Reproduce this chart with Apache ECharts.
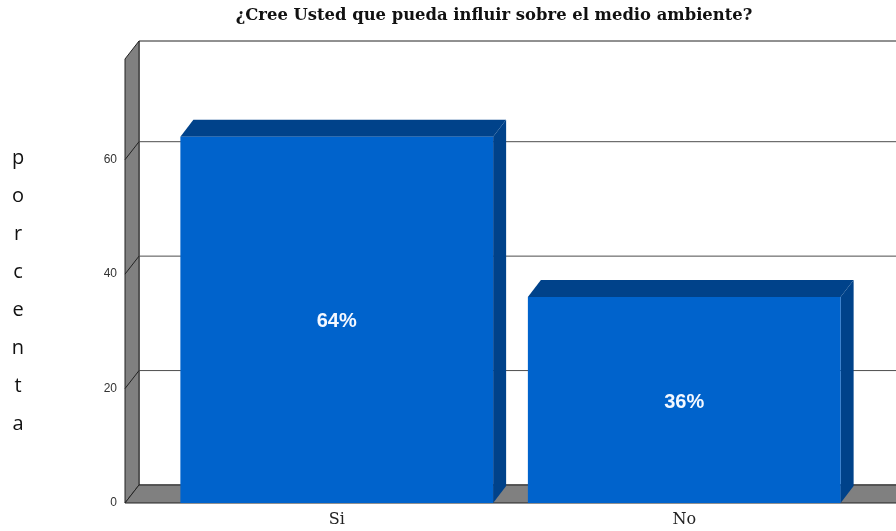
<!DOCTYPE html>
<html>
<head>
<meta charset="utf-8">
<script src="https://cdn.jsdelivr.net/npm/echarts@6/dist/echarts.min.js"></script>
<style>
  html, body { margin: 0; padding: 0; background: #ffffff; }
  #chart { width: 896px; height: 531px; }
</style>
</head>
<body>
<div id="chart"></div>
<script>
// Survey answers and their share (%)
const categories = ['Si', 'No'];
const percentages = [64, 36];
const yTickValues = [0, 20, 40, 60];
const chartTitle = '¿Cree Usted que pueda influir sobre el medio ambiente?';
const yAxisTitle = 'porcentaje';

// 3D look: how far the back plane sits from the front plane
const WALL = { dx: 14, dy: -18, side: 38 };
const BAR = { dx: 13, dy: -17, ratio: 0.9 };
const COLORS = {
  wall: '#808080', edge: '#222222', grid: '#4d4d4d',
  barFront: '#0063cc', barShade: '#00428a'
};

const chart = echarts.init(document.getElementById('chart'), null, { renderer: 'canvas' });

// back wall, left wall and floor of the box
function renderFrame(params, api) {
  const cs = params.coordSys;
  const fx = cs.x - WALL.side;
  const bx = fx + WALL.dx;
  const right = api.getWidth() + 20;
  const top = cs.y;
  const bottom = cs.y + cs.height;
  return {
    type: 'group',
    children: [
      { type: 'rect', z2: 0,
        shape: { x: bx, y: top + WALL.dy, width: right - bx, height: cs.height },
        style: { fill: '#ffffff', stroke: COLORS.edge, lineWidth: 1 } },
      { type: 'polygon', z2: 1,
        shape: { points: [[fx, top], [bx, top + WALL.dy], [bx, bottom + WALL.dy], [fx, bottom]] },
        style: { fill: COLORS.wall, stroke: COLORS.edge, lineWidth: 1 } },
      { type: 'polygon', z2: 1,
        shape: { points: [[fx, bottom], [bx, bottom + WALL.dy], [right, bottom + WALL.dy], [right, bottom]] },
        style: { fill: COLORS.wall, stroke: COLORS.edge, lineWidth: 1 } }
    ]
  };
}

// grid lines on the back wall, wrapped round the left wall
function renderGridLine(params, api) {
  const cs = params.coordSys;
  const v = api.value(1);
  if (v === 0) return { type: 'group', children: [] };
  const y = api.coord([0, v])[1];
  const fx = cs.x - WALL.side;
  const bx = fx + WALL.dx;
  const right = api.getWidth() + 20;
  return {
    type: 'group',
    children: [
      { type: 'line', shape: { x1: bx, y1: y + WALL.dy, x2: right, y2: y + WALL.dy },
        style: { stroke: COLORS.grid, lineWidth: 1 } },
      { type: 'line', shape: { x1: fx, y1: y, x2: bx, y2: y + WALL.dy },
        style: { stroke: COLORS.edge, lineWidth: 1 } }
    ]
  };
}

// extruded bar with its value printed on the front face
function renderBar(params, api) {
  const idx = api.value(0);
  const val = api.value(1);
  const base = api.coord([idx, 0]);
  const topPt = api.coord([idx, val]);
  const w = api.size([1, 0])[0] * BAR.ratio;
  const x0 = topPt[0] - w / 2;
  const x1 = topPt[0] + w / 2;
  const yt = topPt[1];
  const yb = base[1];
  return {
    type: 'group',
    children: [
      { type: 'polygon',
        shape: { points: [[x1, yt], [x1 + BAR.dx, yt + BAR.dy], [x1 + BAR.dx, yb + BAR.dy], [x1, yb]] },
        style: { fill: COLORS.barShade } },
      { type: 'polygon',
        shape: { points: [[x0, yt], [x0 + BAR.dx, yt + BAR.dy], [x1 + BAR.dx, yt + BAR.dy], [x1, yt]] },
        style: { fill: COLORS.barShade } },
      { type: 'rect',
        shape: { x: x0, y: yt, width: w, height: yb - yt },
        style: { fill: COLORS.barFront } },
      { type: 'text',
        style: {
          text: val + '%', x: topPt[0], y: (yt + yb) / 2 + 2,
          align: 'center', verticalAlign: 'middle',
          fill: '#f4f8ff', fontSize: 20, fontWeight: 'bold', fontFamily: 'Liberation Sans'
        } }
    ]
  };
}

const option = {
  backgroundColor: '#ffffff',
  animation: false,
  grid: { left: 163, right: 38, top: 59, bottom: 28 },
  xAxis: {
    type: 'category',
    data: categories,
    axisLine: { show: false },
    axisTick: { show: false },
    axisLabel: {
      margin: 9, color: '#222222', fontSize: 16,
      fontFamily: 'DejaVu Serif', fontWeight: 'normal'
    }
  },
  yAxis: {
    type: 'value',
    min: 0,
    max: 77.6,
    offset: WALL.side,
    axisLine: { show: false },
    axisTick: { show: false },
    splitLine: { show: false },
    axisLabel: {
      margin: 8, color: '#333333', fontSize: 12,
      fontFamily: 'Liberation Sans',
      customValues: yTickValues
    }
  },
  graphic: [
    {
      type: 'text', x: 494, y: 16,
      style: {
        text: chartTitle, fill: '#111111',
        align: 'center', verticalAlign: 'middle',
        fontSize: 16.4, fontWeight: 'bold', fontFamily: 'DejaVu Serif'
      }
    },
    {
      type: 'text', x: 18, y: 139,
      style: {
        text: yAxisTitle.split('').join('\n'),
        align: 'center', lineHeight: 38,
        fill: '#111111', fontSize: 20, fontFamily: 'Open Sans'
      }
    },
    {
      type: 'rect', z: 100,
      shape: { x: 0, y: 452, width: 45, height: 79 },
      style: { fill: '#ffffff' }
    }
  ],
  series: [
    {
      type: 'custom', name: 'frame', silent: true, clip: false, z: 1,
      renderItem: renderFrame,
      data: [[0, 0]]
    },
    {
      type: 'custom', name: 'grid', silent: true, clip: false, z: 2,
      renderItem: renderGridLine,
      data: yTickValues.map(v => [0, v])
    },
    {
      type: 'custom', name: 'porcentaje', silent: true, clip: false, z: 3,
      renderItem: renderBar,
      data: percentages.map((v, i) => [i, v])
    }
  ]
};

chart.setOption(option);
</script>
</body>
</html>
